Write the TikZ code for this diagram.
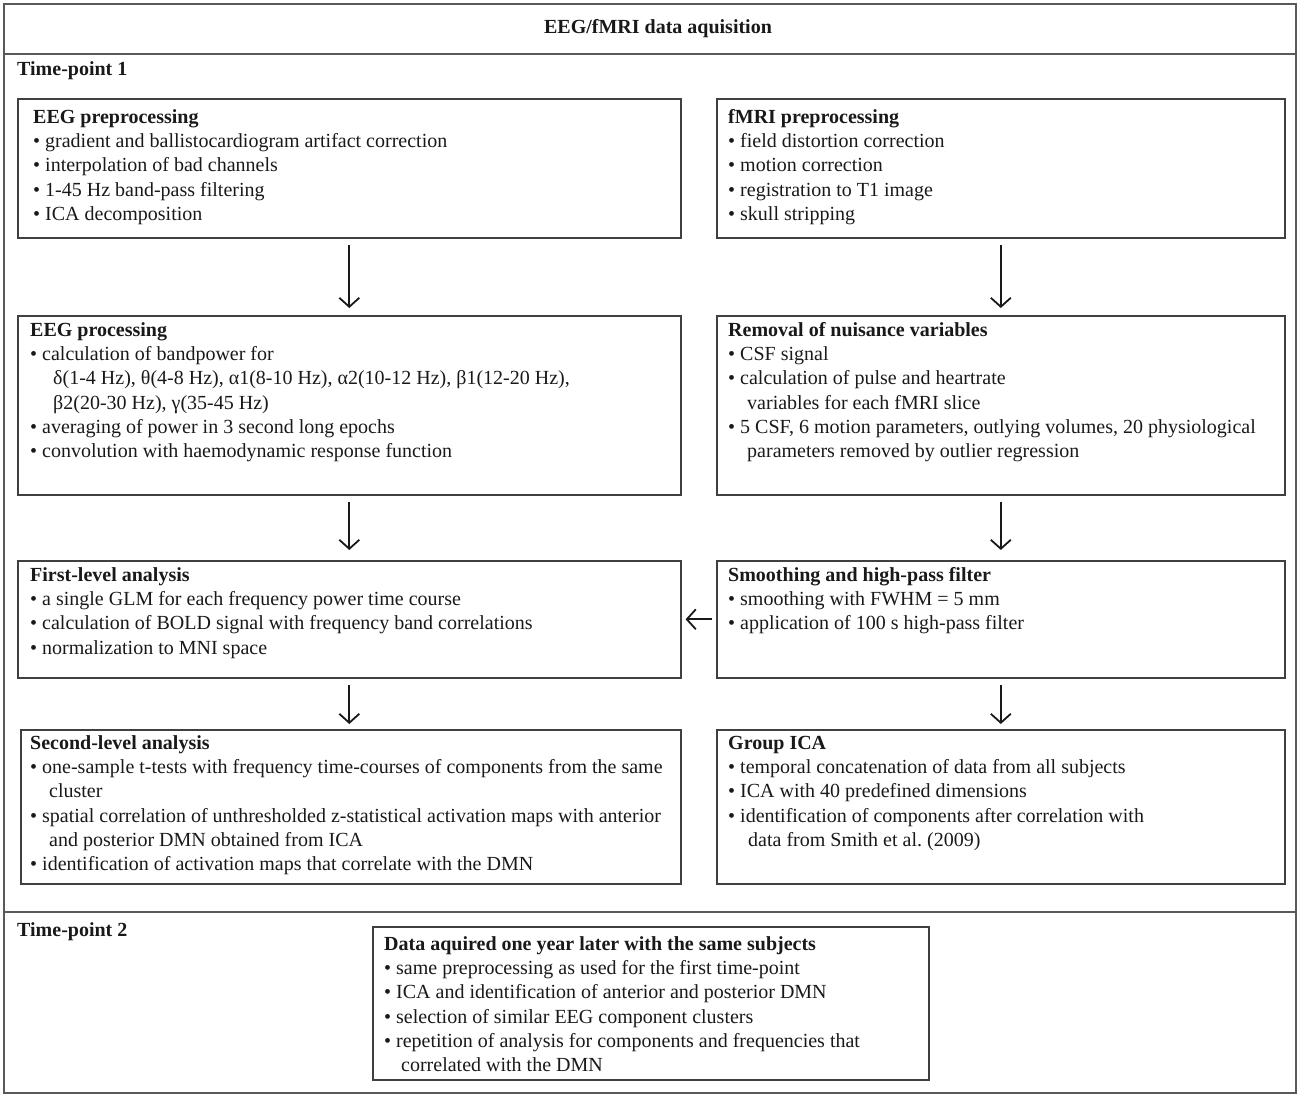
\documentclass[tikz,border=0pt]{standalone}
\usepackage{fontspec}
\setmainfont{Liberation Serif}
\usetikzlibrary{arrows.meta}
\newcommand\fst{\rule{0pt}{15pt}}
\frenchspacing
\begin{document}
\begin{tikzpicture}[x=1pt,y=-1pt,
  frame/.style={draw=black!65, line width=1.4pt},
  sep/.style={draw=black!65, line width=2.2pt},
  box/.style={draw=black!75, line width=1.6pt, inner sep=0pt, anchor=north west},
  txt/.style={anchor=north west, inner sep=0pt, align=left, font=\fontsize{20}{24.3}\selectfont\frenchspacing, text=black!90},
  arr/.style={draw=black!90, line width=1.8pt, -{Straight Barb[length=9pt,width=20pt,line width=1.8pt]}},
]
\useasboundingbox (0,0) rectangle (1300,1099);
% outer frame
\draw[frame] (4,4) rectangle (1296,1093);
\draw[sep] (4,54) -- (1296,54);
\draw[sep] (4,912) -- (1296,912);
\node[txt, anchor=base] (title) at (658,34) {\textbf{EEG/fMRI data aquisition}};
\node[txt, anchor=base west] (tp1) at (17,76) {\textbf{Time-point 1}};
\node[txt, anchor=base west] (tp2) at (17,936) {\textbf{Time-point 2}};

% boxes
\node[box, minimum width=663pt, minimum height=139pt] (eegpre) at (17,98) {};
\node[box, minimum width=568pt, minimum height=139pt] (fmripre) at (716,98) {};
\node[box, minimum width=663pt, minimum height=179pt] (eegproc) at (17,315) {};
\node[box, minimum width=568pt, minimum height=179pt] (nuis) at (716,315) {};
\node[box, minimum width=663pt, minimum height=117pt] (first) at (17,560) {};
\node[box, minimum width=568pt, minimum height=117pt] (smooth) at (716,560) {};
\node[box, minimum width=660pt, minimum height=154pt] (second) at (20,729) {};
\node[box, minimum width=568pt, minimum height=154pt] (gica) at (716,729) {};
\node[box, minimum width=556pt, minimum height=153pt] (tp2box) at (372,926) {};

% texts
\node[txt] (t1) at (33,108) {\fst\textbf{EEG preprocessing}\\
• gradient and ballistocardiogram artifact correction\\
• interpolation of bad channels\\
• 1-45 Hz band-pass filtering\\
• ICA decomposition};
\node[txt] (t2) at (728,108) {\fst\textbf{fMRI preprocessing}\\
• field distortion correction\\
• motion correction\\
• registration to T1 image\\
• skull stripping};
\node[txt] (t3) at (30,321) {\fst\textbf{EEG processing}\\
• calculation of bandpower for\\
\hspace*{23pt}δ(1-4 Hz), θ(4-8 Hz), α1(8-10 Hz), α2(10-12 Hz), β1(12-20 Hz),\\
\hspace*{23pt}β2(20-30 Hz), γ(35-45 Hz)\\
• averaging of power in 3 second long epochs\\
• convolution with haemodynamic response function};
\node[txt] (t4) at (728,321) {\fst\textbf{Removal of nuisance variables}\\
• CSF signal\\
• calculation of pulse and heartrate\\
\hspace*{19pt}variables for each fMRI slice\\
• 5 CSF, 6 motion parameters, outlying volumes, 20 physiological\\
\hspace*{19pt}parameters removed by outlier regression};
\node[txt] (t5) at (30,566) {\fst\textbf{First-level analysis}\\
• a single GLM for each frequency power time course\\
• calculation of BOLD signal with frequency band correlations\\
• normalization to MNI space};
\node[txt] (t6) at (728,566) {\fst\textbf{Smoothing and high-pass filter}\\
• smoothing with FWHM = 5 mm\\
• application of 100 s high-pass filter};
\node[txt] (t7) at (30,734) {\fst\textbf{Second-level analysis}\\
• one-sample t-tests with frequency time-courses of components from the same\\
\hspace*{19pt}cluster\\
• spatial correlation of unthresholded z-statistical activation maps with anterior\\
\hspace*{19pt}and posterior DMN obtained from ICA\\
• identification of activation maps that correlate with the DMN};
\node[txt] (t8) at (728,734) {\fst\textbf{Group ICA}\\
• temporal concatenation of data from all subjects\\
• ICA with 40 predefined dimensions\\
• identification of components after correlation with\\
\hspace*{20pt}data from Smith et al.\ (2009)};
\node[txt] (t9) at (384,935) {\fst\textbf{Data aquired one year later with the same subjects}\\
• same preprocessing as used for the first time-point\\
• ICA and identification of anterior and posterior DMN\\
• selection of similar EEG component clusters\\
• repetition of analysis for components and frequencies that\\
\hspace*{17pt}correlated with the DMN};

% arrows
\draw[arr, shorten <=6pt, shorten >=7pt] (eegpre.south) -- (eegproc.north);
\draw[arr, shorten <=6pt, shorten >=7pt] (fmripre.south) -- (nuis.north);
\draw[arr, shorten <=6pt, shorten >=10pt] (eegproc.south) -- (first.north);
\draw[arr, shorten <=6pt, shorten >=10pt] (nuis.south) -- (smooth.north);
\draw[arr, shorten <=6pt, shorten >=5pt] (first.south) -- (second.north -| first.south);
\draw[arr, shorten <=6pt, shorten >=5pt] (smooth.south) -- (gica.north);
\draw[arr, shorten <=4pt, shorten >=4pt] (smooth.west) -- (first.east);
\end{tikzpicture}
\end{document}
